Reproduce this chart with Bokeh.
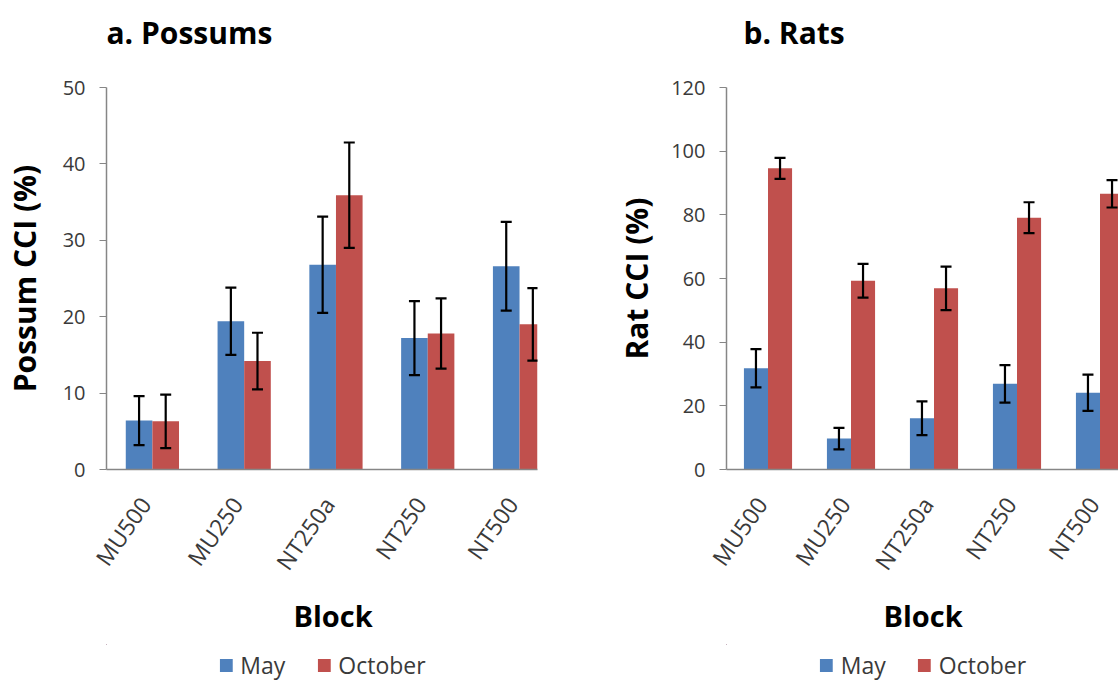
import numpy as np
from bokeh.plotting import figure
from bokeh.layouts import row, column
from bokeh.models import (ColumnDataSource, Whisker, TeeHead, Range1d, FixedTicker,
                          Legend, LegendItem, Title, Label)
from bokeh.embed import file_html
from bokeh.resources import INLINE

# ---------------- data ----------------
blocks = ["MU500", "MU250", "NT250a", "NT250", "NT500"]
series = ["May", "October"]

possum_may = [6.4, 19.4, 26.8, 17.2, 26.6]
possum_may_err = [3.2, 4.4, 6.3, 4.85, 5.8]
possum_oct = [6.3, 14.2, 35.9, 17.8, 19.0]
possum_oct_err = [3.5, 3.7, 6.9, 4.6, 4.75]

rat_may = [31.8, 9.7, 16.1, 26.9, 24.1]
rat_may_err = [6.0, 3.4, 5.3, 5.9, 5.7]
rat_oct = [94.6, 59.3, 56.9, 79.1, 86.6]
rat_oct_err = [3.3, 5.3, 6.85, 4.85, 4.3]

possum_ticks = [0, 10, 20, 30, 40, 50]
rat_ticks = [0, 20, 40, 60, 80, 100, 120]

BLUE = "#4F81BD"
RED = "#C0504D"
FONT = "Open Sans"
AXIS_GREY = "#868686"
TEXT_GREY = "#3a3a3a"

BAR_W = 0.29
TOP_H = 60            # title strip
LEG_H = 42            # legend strip
MAIN_H = 686 - TOP_H - LEG_H
FRAME_TOP = 87 - TOP_H
FRAME_BOTTOM = 469 - TOP_H
LABEL_SHIFT = 0.08    # rotated category labels end slightly left of the group centre


def strip(width, height, x_range, y_range, border_left, border_right):
    s = figure(width=width, height=height, output_backend="svg", toolbar_location=None,
               x_range=x_range, y_range=y_range,
               x_axis_type=None, y_axis_type=None,
               min_border_left=border_left, min_border_right=border_right,
               min_border_top=0, min_border_bottom=0)
    s.outline_line_color = None
    s.xgrid.visible = False
    s.ygrid.visible = False
    return s


def panel(title, ylabel, may, may_err, octv, oct_err, ticks, x_end, width,
          border_left, border_right, title_x, block_offset, ylabel_standoff):
    n = len(blocks)
    centers = np.arange(n) + 0.5

    # ---- title strip (frame aligned with the chart frame) ----
    ts = strip(width, TOP_H, Range1d(0, x_end), Range1d(0, 1), border_left, border_right)
    ts.add_layout(Label(x=title_x, y=28, x_units="screen", y_units="screen",
                        text=title, text_font=FONT, text_font_size="30px",
                        text_font_style="bold", text_color="black",
                        text_align="left", text_baseline="alphabetic"))

    # ---- chart ----
    p = figure(width=width, height=MAIN_H, output_backend="svg", toolbar_location=None,
               x_range=Range1d(0, x_end), y_range=Range1d(ticks[0], ticks[-1]),
               min_border_left=border_left, min_border_right=border_right,
               min_border_top=FRAME_TOP, min_border_bottom=MAIN_H - FRAME_BOTTOM)
    p.outline_line_color = None
    p.xgrid.visible = False
    p.ygrid.visible = False

    src_may = ColumnDataSource(dict(x=centers - BAR_W / 2, top=may,
                                    upper=np.array(may) + np.array(may_err),
                                    lower=np.array(may) - np.array(may_err)))
    src_oct = ColumnDataSource(dict(x=centers + BAR_W / 2, top=octv,
                                    upper=np.array(octv) + np.array(oct_err),
                                    lower=np.array(octv) - np.array(oct_err)))
    p.vbar(x="x", top="top", bottom=0, width=BAR_W, source=src_may,
           fill_color=BLUE, line_color=None)
    p.vbar(x="x", top="top", bottom=0, width=BAR_W, source=src_oct,
           fill_color=RED, line_color=None)

    for src in (src_may, src_oct):
        w = Whisker(base="x", upper="upper", lower="lower", source=src,
                    dimension="height", line_color="black", line_width=2.2,
                    level="overlay",
                    upper_head=TeeHead(size=11, line_width=2.2, line_color="black"),
                    lower_head=TeeHead(size=11, line_width=2.2, line_color="black"))
        p.add_layout(w)

    # x axis
    label_pos = centers - LABEL_SHIFT
    xa = p.xaxis[0]
    xa.ticker = FixedTicker(ticks=list(label_pos))
    xa.major_label_overrides = {float(c): b for c, b in zip(label_pos, blocks)}
    xa.major_label_orientation = 0.96
    xa.major_label_text_font = FONT
    xa.major_label_text_font_size = "23px"
    xa.major_label_text_color = TEXT_GREY
    xa.major_label_standoff = 30
    xa.major_tick_out = 0
    xa.major_tick_in = 0
    xa.minor_tick_out = 0
    xa.minor_tick_in = 0
    xa.axis_line_color = AXIS_GREY
    xa.axis_line_width = 1.5

    # y axis
    ya = p.yaxis[0]
    ya.ticker = FixedTicker(ticks=ticks)
    ya.major_label_text_font = FONT
    ya.major_label_text_font_size = "20px"
    ya.major_label_text_color = TEXT_GREY
    ya.major_label_standoff = 14
    ya.major_tick_out = 7
    ya.major_tick_in = 0
    ya.minor_tick_out = 0
    ya.minor_tick_in = 0
    ya.major_tick_line_color = AXIS_GREY
    ya.axis_line_color = AXIS_GREY
    ya.axis_line_width = 1.5
    ya.axis_label = ylabel
    ya.axis_label_text_font = FONT
    ya.axis_label_text_font_size = "30px"
    ya.axis_label_text_font_style = "bold"
    ya.axis_label_text_color = "black"
    ya.axis_label_standoff = ylabel_standoff

    # x axis title, below the tick labels
    p.add_layout(Title(text="Block", text_font=FONT, text_font_size="29px",
                       text_font_style="bold", text_color="black", align="left",
                       offset=block_offset, standoff=10), "below")

    # ---- legend strip: bars share the chart's sources but lie far outside its ranges ----
    lg = strip(width, LEG_H, Range1d(1000, 1000 + x_end), Range1d(-1000, -999),
               border_left, border_right)
    r_may = lg.vbar(x="x", top="top", bottom=0, width=BAR_W, source=src_may,
                    fill_color=BLUE, line_color=None)
    r_oct = lg.vbar(x="x", top="top", bottom=0, width=BAR_W, source=src_oct,
                    fill_color=RED, line_color=None)
    legend = Legend(items=[LegendItem(label=series[0], renderers=[r_may]),
                           LegendItem(label=series[1], renderers=[r_oct])],
                    orientation="horizontal", location="center",
                    label_text_font=FONT, label_text_font_size="23px",
                    label_text_color=TEXT_GREY, glyph_width=16, glyph_height=16,
                    label_standoff=7, spacing=30, padding=0, margin=0,
                    border_line_color=None, background_fill_alpha=0)
    lg.add_layout(legend)
    return column(ts, p, lg, spacing=0)


# left panel: frame from x=105 to 537 (category width ~92 px)
p1 = panel("a. Possums", "Possum CCI (%)", possum_may, possum_may_err,
           possum_oct, possum_oct_err, possum_ticks, 432 / 92, 568, 105, 31,
           0, 187, 15)
# right panel: frame from x=726 to 1118 (category width ~83 px)
p2 = panel("b. Rats", "Rat CCI (%)", rat_may, rat_may_err,
           rat_oct, rat_oct_err, rat_ticks, 392 / 83, 550, 158, 0,
           17, 157, 11)

layout = row(p1, p2, spacing=0)
open("out.html", "w").write(file_html(layout, INLINE))
